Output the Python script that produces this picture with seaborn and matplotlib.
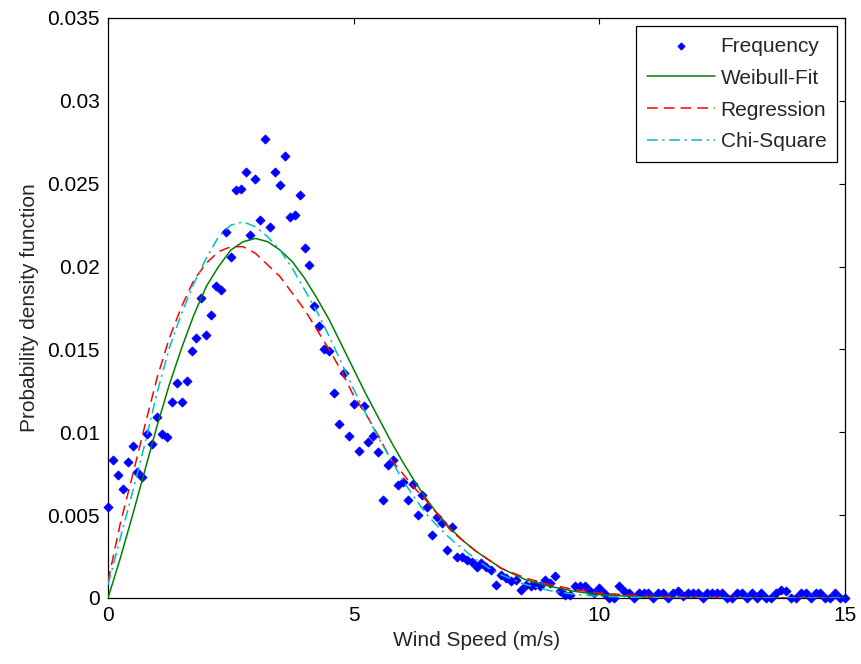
import numpy as np
import pandas as pd
import matplotlib
matplotlib.use('Agg')
import matplotlib.pyplot as plt
import seaborn as sns

# wind speed bins (m/s) and measured relative frequency
speed = [
    0.0, 0.1, 0.2, 0.3, 0.4, 0.5, 0.6, 0.7, 0.8, 0.9,
    1.0, 1.1, 1.2, 1.3, 1.4, 1.5, 1.6, 1.7, 1.8, 1.9,
    2.0, 2.1, 2.2, 2.3, 2.4, 2.5, 2.6, 2.7, 2.8, 2.9,
    3.0, 3.1, 3.2, 3.3, 3.4, 3.5, 3.6, 3.7, 3.8, 3.9,
    4.0, 4.1, 4.2, 4.3, 4.4, 4.5, 4.6, 4.7, 4.8, 4.9,
    5.0, 5.1, 5.2, 5.3, 5.4, 5.5, 5.6, 5.7, 5.8, 5.9,
    6.0, 6.1, 6.2, 6.3, 6.4, 6.5, 6.6, 6.7, 6.8, 6.9,
    7.0, 7.1, 7.2, 7.3, 7.4, 7.5, 7.6, 7.7, 7.8, 7.9,
    8.0, 8.1, 8.2, 8.3, 8.4, 8.5, 8.6, 8.7, 8.8, 8.9,
    9.0, 9.1, 9.2, 9.3, 9.4, 9.5, 9.6, 9.7, 9.8, 9.9,
    10.0, 10.1, 10.2, 10.3, 10.4, 10.5, 10.6, 10.7, 10.8, 10.9,
    11.0, 11.1, 11.2, 11.3, 11.4, 11.5, 11.6, 11.7, 11.8, 11.9,
    12.0, 12.1, 12.2, 12.3, 12.4, 12.5, 12.6, 12.7, 12.8, 12.9,
    13.0, 13.1, 13.2, 13.3, 13.4, 13.5, 13.6, 13.7, 13.8, 13.9,
    14.0, 14.1, 14.2, 14.3, 14.4, 14.5, 14.6, 14.7, 14.8, 14.9,
    15.0,
]
frequency = [
    0.0055, 0.0083, 0.0074, 0.0066, 0.0082, 0.0092, 0.0076, 0.0073, 0.0099, 0.0093,
    0.0109, 0.0099, 0.0097, 0.0118, 0.0130, 0.0118, 0.0131, 0.0149, 0.0157, 0.0181,
    0.0159, 0.0171, 0.0188, 0.0186, 0.0221, 0.0206, 0.0246, 0.0247, 0.0257, 0.0219,
    0.0253, 0.0228, 0.0277, 0.0224, 0.0257, 0.0249, 0.0267, 0.0230, 0.0231, 0.0243,
    0.0211, 0.0201, 0.0176, 0.0164, 0.0150, 0.0149, 0.0124, 0.0105, 0.0136, 0.0098,
    0.0117, 0.0089, 0.0116, 0.0094, 0.0098, 0.0088, 0.0059, 0.0080, 0.0083, 0.0068,
    0.0070, 0.0059, 0.0069, 0.0050, 0.0062, 0.0055, 0.0038, 0.0049, 0.0045, 0.0029,
    0.0043, 0.0025, 0.0025, 0.0023, 0.0022, 0.0019, 0.0021, 0.0019, 0.0017, 0.0008,
    0.0014, 0.0012, 0.0010, 0.0011, 0.0005, 0.0008, 0.0007, 0.0008, 0.0007, 0.0011,
    0.0009, 0.0013, 0.0004, 0.0002, 0.0002, 0.0007, 0.0007, 0.0007, 0.0004, 0.0003,
    0.0006, 0.0003, 0.0, 0.0, 0.0007, 0.0004, 0.0003, 0.0, 0.0003, 0.0003,
    0.0003, 0.0, 0.0003, 0.0003, 0.0, 0.0003, 0.0004, 0.0001, 0.0003, 0.0003,
    0.0003, 0.0, 0.0003, 0.0003, 0.0003, 0.0003, 0.0, 0.0, 0.0003, 0.0003,
    0.0, 0.0003, 0.0, 0.0003, 0.0, 0.0, 0.0003, 0.0005, 0.0004, 0.0,
    0.0, 0.0003, 0.0003, 0.0, 0.0003, 0.0003, 0.0, 0.0, 0.0003, 0.0,
    0.0,
]

curve_speed = [
    0.0, 0.25, 0.5, 0.75, 1.0, 1.25, 1.5, 1.75, 2.0, 2.25,
    2.5, 2.75, 3.0, 3.25, 3.5, 3.75, 4.0, 4.25, 4.5, 4.75,
    5.0, 5.25, 5.5, 5.75, 6.0, 6.25, 6.5, 6.75, 7.0, 7.25,
    7.5, 7.75, 8.0, 8.5, 9.0, 9.5, 10.0, 11.0, 12.0, 13.0,
    14.0, 15.0,
]
weibull_fit = [
    0.0, 0.0024, 0.0050, 0.0077, 0.0104, 0.0129, 0.0151, 0.0171, 0.0188, 0.0200,
    0.0210, 0.0215, 0.0217, 0.0215, 0.0210, 0.0203, 0.0193, 0.0181, 0.0168, 0.0153,
    0.0138, 0.0123, 0.0109, 0.0095, 0.0082, 0.0070, 0.0059, 0.0049, 0.0041, 0.0034,
    0.0028, 0.0023, 0.0018, 0.0011, 0.0007, 0.0004, 0.0002, 0.00005, 0.00001, 0.0,
    0.0, 0.0,
]
regression = [
    0.0010, 0.0045, 0.0074, 0.0104, 0.0133, 0.0157, 0.0176, 0.0192, 0.0202, 0.0209,
    0.0212, 0.0212, 0.0208, 0.0201, 0.0194, 0.0184, 0.0174, 0.0162, 0.0150, 0.0137,
    0.0122, 0.0111, 0.0098, 0.0084, 0.0075, 0.0066, 0.0058, 0.0049, 0.0040, 0.0034,
    0.0028, 0.0023, 0.0018, 0.0012, 0.0008, 0.0005, 0.0003, 0.0001, 0.00004, 0.0,
    0.0, 0.0,
]
chi_square = [
    0.0008, 0.0036, 0.0064, 0.0093, 0.0124, 0.0151, 0.0172, 0.0190, 0.0205, 0.0218,
    0.0225, 0.0227, 0.0224, 0.0218, 0.0210, 0.0199, 0.0186, 0.0173, 0.0158, 0.0142,
    0.0126, 0.0111, 0.0097, 0.0084, 0.0071, 0.0060, 0.0050, 0.0042, 0.0035, 0.0029,
    0.0023, 0.0018, 0.0014, 0.0008, 0.00044, 0.00022, 0.0001, 0.00002, 0.0, 0.0,
    0.0, 0.0,
]

x_ticks = [0, 5, 10, 15]
y_ticks = [0, 0.005, 0.01, 0.015, 0.02, 0.025, 0.03, 0.035]
y_tick_labels = ['0', '0.005', '0.01', '0.015', '0.02', '0.025', '0.03', '0.035']

sns.set_style('white')
plt.rcParams['font.family'] = ['Liberation Sans', 'DejaVu Sans']
plt.rcParams['font.size'] = 15

freq_df = pd.DataFrame({'speed': speed, 'pdf': frequency})
curves_df = pd.DataFrame({
    'speed': curve_speed,
    'Weibull-Fit': weibull_fit,
    'Regression': regression,
    'Chi-Square': chi_square,
})

fig = plt.figure(figsize=(8.62, 6.64), dpi=100)
ax = fig.add_axes([0.1253, 0.0994, 0.8550, 0.8735])

sns.scatterplot(data=freq_df, x='speed', y='pdf', marker='D', s=22, color='#0000ff',
                edgecolor='#0000ff', linewidth=0.5, ax=ax, label='Frequency',
                clip_on=False, zorder=3)
sns.lineplot(data=curves_df, x='speed', y='Weibull-Fit', color='#008000', lw=1.1,
             ax=ax, label='Weibull-Fit', zorder=4)
sns.lineplot(data=curves_df, x='speed', y='Regression', color='#ff0000', lw=1.1,
             ax=ax, label='Regression', zorder=4)
sns.lineplot(data=curves_df, x='speed', y='Chi-Square', color='#00bfbf', lw=1.1,
             ax=ax, label='Chi-Square', zorder=4)
lines = ax.get_lines()
lines[1].set_dashes([7, 4])
lines[2].set_dashes([7, 3, 1.5, 3])

ax.set_xlim(0, 15)
ax.set_ylim(0, 0.035)
ax.set_xticks(x_ticks)
ax.set_xticklabels([str(t) for t in x_ticks])
ax.set_yticks(y_ticks)
ax.set_yticklabels(y_tick_labels)
ax.tick_params(direction='in', top=True, right=True, length=4, width=0.8,
               labelsize=15, pad=6, colors='black')
for sp in ax.spines.values():
    sp.set_color('black')
    sp.set_linewidth(0.9)
    sp.set_visible(True)

ax.set_xlabel('Wind Speed (m/s)', fontsize=15, labelpad=4)
ax.set_ylabel('Probability density function', fontsize=15, labelpad=6)

leg = ax.legend(loc='upper right', fontsize=15, frameon=True, fancybox=False,
                edgecolor='black', framealpha=1, handlelength=3.3, handletextpad=0.25,
                borderaxespad=0.4, labelspacing=0.62, borderpad=0.5, markerscale=0.8)
leg.get_frame().set_linewidth(0.9)

fig.savefig('out.png', dpi=100)
